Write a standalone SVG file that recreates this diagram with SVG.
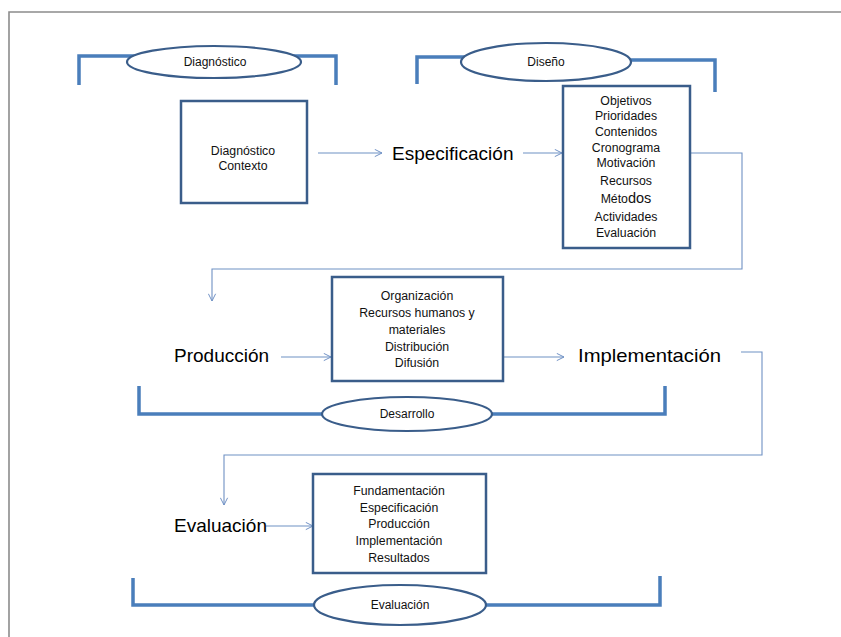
<svg xmlns="http://www.w3.org/2000/svg" width="841" height="637" viewBox="0 0 841 637">
  <defs>
    <marker id="open" viewBox="0 0 10 10" refX="9" refY="5" markerWidth="9" markerHeight="9" markerUnits="userSpaceOnUse" orient="auto">
      <path d="M1,1 L9,5 L1,9" fill="none" stroke="#6f91c4" stroke-width="1.1"/>
    </marker>
    <style>
      .frame { fill: none; stroke: #8c8c8c; stroke-width: 1.6; }
      .bracket { fill: none; stroke: #4a7ebb; stroke-width: 3.5; }
      .box { fill: #ffffff; stroke: #3a5d8a; stroke-width: 2.5; }
      .oval { fill: #ffffff; stroke: #3a5d8a; stroke-width: 2.2; }
      .conn { fill: none; stroke: #6f91c4; stroke-width: 1.1; }
      .small { font-family: "Liberation Sans", Arial, sans-serif; font-size: 12.3px; fill: #111111; text-anchor: middle; }
      .tag { font-family: "Liberation Sans", Arial, sans-serif; font-size: 12px; fill: #111111; text-anchor: middle; }
      .big { font-family: "Liberation Sans", Arial, sans-serif; font-size: 19px; fill: #000000; }
    </style>
  </defs>

  <rect width="841" height="637" fill="#ffffff"/>
  <path class="frame" d="M841,12 H9 V637"/>

  <!-- phase brackets with their oval titles -->
  <g id="phase-diagnostico">
    <path class="bracket" d="M79,85 V56 H336 V85"/>
    <ellipse class="oval" cx="214" cy="62" rx="87" ry="16"/>
    <text class="tag" x="215" y="66">Diagnóstico</text>
  </g>
  <g id="phase-diseno">
    <path class="bracket" d="M417,84 V57 H480"/>
    <path class="bracket" d="M610,60 H715 V92"/>
    <ellipse class="oval" cx="546" cy="62" rx="85" ry="19"/>
    <text class="tag" x="546" y="66">Diseño</text>
  </g>
  <g id="phase-desarrollo">
    <path class="bracket" d="M139,386 V414 H665 V386"/>
    <ellipse class="oval" cx="407" cy="414" rx="85" ry="17"/>
    <text class="tag" x="407" y="418">Desarrollo</text>
  </g>
  <g id="phase-evaluacion">
    <path class="bracket" d="M133,578 V605 H660 V576"/>
    <ellipse class="oval" cx="400" cy="605" rx="86" ry="20"/>
    <text class="tag" x="400" y="609">Evaluación</text>
  </g>

  <!-- connectors -->
  <g id="connectors">
    <path class="conn" d="M318,153 H382" marker-end="url(#open)"/>
    <path class="conn" d="M523,153 H562" marker-end="url(#open)"/>
    <path class="conn" d="M690,153 H742 V269 H212 V301" marker-end="url(#open)"/>
    <path class="conn" d="M281,357 H331" marker-end="url(#open)"/>
    <path class="conn" d="M504,357 H564" marker-end="url(#open)"/>
    <path class="conn" d="M741,352 H762 V455 H224 V505" marker-end="url(#open)"/>
    <path class="conn" d="M266,526 H313" marker-end="url(#open)"/>
  </g>

  <!-- boxes and stage labels -->
  <g id="box-diagnostico">
    <rect class="box" x="181" y="101" width="126" height="102"/>
    <text class="small" x="243" y="155">Diagnóstico</text>
    <text class="small" x="243" y="170">Contexto</text>
  </g>

  <g id="label-especificacion">
    <text class="big" x="392" y="160">Especificación</text>
  </g>

  <g id="box-diseno">
    <rect class="box" x="563" y="86" width="127" height="162"/>
    <text class="small" x="626" y="105">Objetivos</text>
    <text class="small" x="626" y="120">Prioridades</text>
    <text class="small" x="626" y="136">Contenidos</text>
    <text class="small" x="626" y="152">Cronograma</text>
    <text class="small" x="626" y="167">Motivación</text>
    <text class="small" x="626" y="185">Recursos</text>
    <text class="small" x="626" y="203">Méto<tspan font-size="14.5px">dos</tspan></text>
    <text class="small" x="626" y="221">Actividades</text>
    <text class="small" x="626" y="237">Evaluación</text>
  </g>

  <g id="label-produccion">
    <text class="big" x="174" y="362">Producción</text>
  </g>

  <g id="box-desarrollo">
    <rect class="box" x="332" y="277" width="171" height="104"/>
    <text class="small" x="417" y="300">Organización</text>
    <text class="small" x="417" y="317">Recursos humanos y</text>
    <text class="small" x="417" y="334">materiales</text>
    <text class="small" x="417" y="351">Distribución</text>
    <text class="small" x="417" y="367">Difusión</text>
  </g>

  <g id="label-implementacion">
    <text class="big" x="578" y="362" textLength="143" lengthAdjust="spacingAndGlyphs">Implementación</text>
  </g>

  <g id="label-evaluacion">
    <text class="big" x="174" y="532">Evaluación</text>
  </g>

  <g id="box-evaluacion">
    <rect class="box" x="313" y="474" width="173" height="99"/>
    <text class="small" x="399" y="495">Fundamentación</text>
    <text class="small" x="399" y="512">Especificación</text>
    <text class="small" x="399" y="528">Producción</text>
    <text class="small" x="399" y="545">Implementación</text>
    <text class="small" x="399" y="562">Resultados</text>
  </g>
</svg>
